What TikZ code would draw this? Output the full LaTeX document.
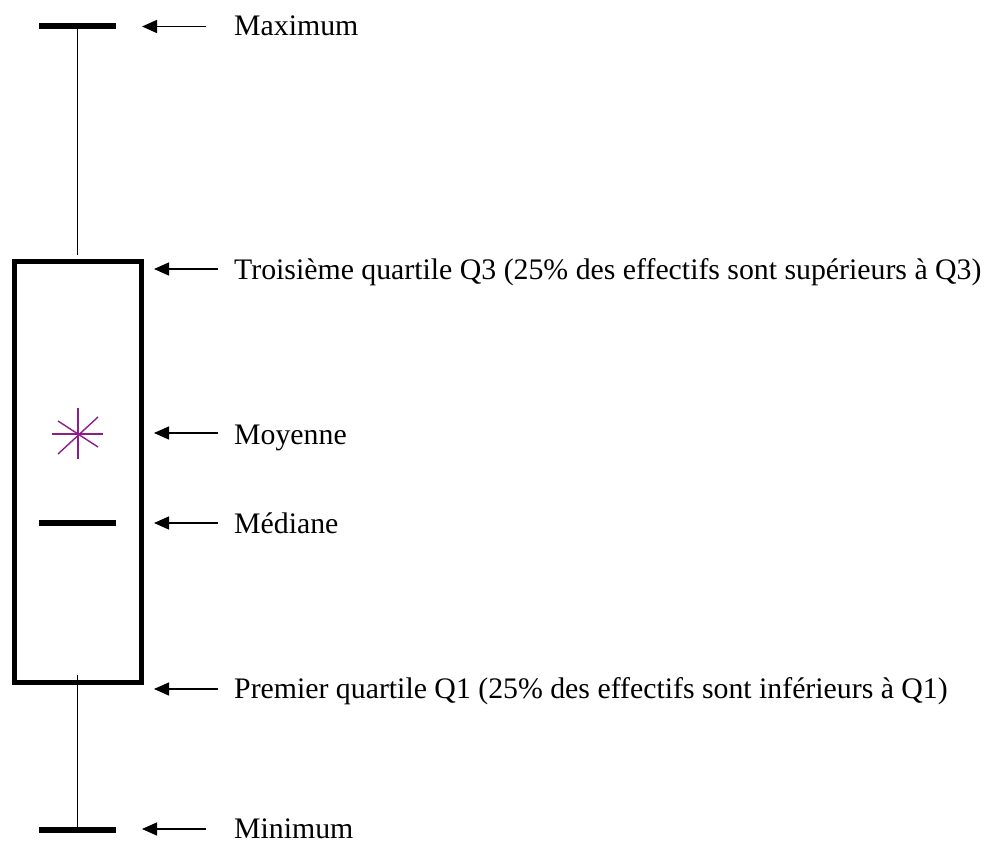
\documentclass[tikz,border=0pt]{standalone}
\usepackage{fontspec}
\setmainfont{Liberation Serif}
\usetikzlibrary{arrows.meta}

\tikzset{
  bar/.style={line width=6pt},
  boxline/.style={line width=5pt},
  whisker/.style={line width=1.4pt},
  pointer/.style={line width=1.3pt, -{Triangle[length=15pt,width=13pt]}},
  lbl/.style={anchor=base west, inner sep=0pt, font=\fontsize{29.8}{32}\selectfont},
  meanstar/.style={draw=meanpurple, line width=1.4pt}
}
\definecolor{meanpurple}{RGB}{140,30,140}

\begin{document}
\begin{tikzpicture}[x=1pt,y=-1pt]
    \useasboundingbox (0,0) rectangle (986,846);
    % boite
    \draw[boxline] (14.5,261.5) rectangle (141,682);
    % moustaches
    \draw[whisker] (77.5,25.5) -- (77.5,255);
    \draw[whisker] (77.5,675) -- (77.5,829.5);
    \draw[bar] (39,25.5) -- (116,25.5);
    \draw[bar] (39,829.5) -- (116,829.5);
    \draw[bar] (39,523) -- (116,523);
    % moyenne
    \draw[meanstar] (52,434) -- (103,434);
    \draw[meanstar] (78,408) -- (78,459);
    \draw[meanstar] (58,454) -- (98,417);
    \draw[meanstar] (58,421) -- (98,447);

    % textes
    \node[lbl] (max) at (234,35) {Maximum};
    \node[lbl] (q3) at (234,279) {Troisième quartile Q3 (25\% des effectifs sont supérieurs à Q3)};
    \node[lbl] (moy) at (234,444) {Moyenne};
    \node[lbl] (med) at (234,533) {Médiane};
    \node[lbl] (q1) at (234,698) {Premier quartile Q1 (25\% des effectifs sont inférieurs à Q1)};
    \node[lbl] (min) at (234,838) {Minimum};

    % fleches
    \coordinate (maxtail) at (206,26.5);  \coordinate (maxtip) at (142,26.5);
    \coordinate (q3tail) at (218,269);    \coordinate (q3tip) at (154,269);
    \coordinate (moytail) at (218,433);   \coordinate (moytip) at (154,433);
    \coordinate (medtail) at (218,523);   \coordinate (medtip) at (154,523);
    \coordinate (q1tail) at (218,689);    \coordinate (q1tip) at (154,689);
    \coordinate (mintail) at (206,829);   \coordinate (mintip) at (142,829);
    \foreach \n in {max,q3,moy,med,q1,min}
        \draw[pointer] (\n tail) -- (\n tip);
\end{tikzpicture}
\end{document}
